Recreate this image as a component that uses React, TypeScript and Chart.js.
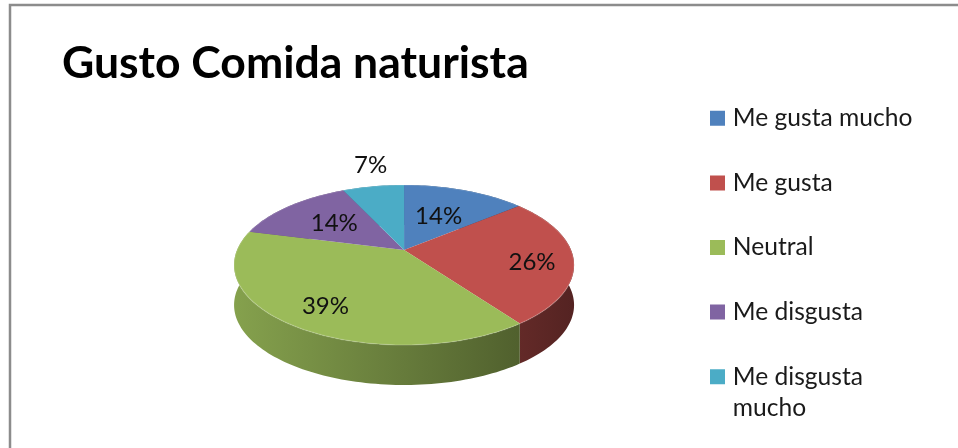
import React, { useEffect, useRef } from "react";
import { Chart, registerables } from "chart.js";

Chart.register(...registerables);

const TITLE = "Gusto Comida naturista";
const categories: (string | string[])[] = ["Me gusta mucho", "Me gusta", "Neutral", "Me disgusta", ["Me disgusta", "mucho"]];
const shares = [14, 26, 39, 14, 7];
const colors = ["#4f81bd", "#c0504d", "#9bbb59", "#8064a2", "#4bacc6"];
const labelRadius = [0.53, 0.76, 0.76, 0.58, 1.41];
const labelTurn = [0, 0.08, -0.02, 0, 0.04];

const FONT = "Lato";
const TILT = 80 / 170;
const DEPTH = 40 / 170;
const APEX = -0.1875;

// Map a point of the unit disc (angle clockwise from 12 o'clock) onto the tilted disc, in perspective.
function project(arc: any, theta: number, r = 1) {
  const u = r * Math.sin(theta);
  const v = -r * Math.cos(theta);
  const w = 1 + v * APEX;
  const pu = (u * Math.sqrt(1 - APEX * APEX)) / w;
  const pv = (v + APEX) / w;
  return { x: arc.x + pu * arc.outerRadius, y: arc.y + pv * arc.outerRadius * TILT };
}

function rim(arc: any) {
  const a0 = arc.startAngle + Math.PI / 2;
  const a1 = arc.endAngle + Math.PI / 2;
  const n = Math.max(8, Math.ceil((a1 - a0) * 40));
  const pts = [];
  for (let i = 0; i <= n; i++) pts.push(project(arc, a0 + ((a1 - a0) * i) / n));
  return pts;
}

function shade(hex: string, f: number) {
  const n = parseInt(hex.slice(1), 16);
  return `rgb(${((n >> 16) & 255) * f},${((n >> 8) & 255) * f},${(n & 255) * f})`;
}

const tiltedPie = {
  id: "tiltedPie",
  afterLayout(chart: any) {
    chart.titleBlock.left = 62;
    chart.legend.left = 674.5;
    chart.legend.right = 958;
    chart.legend.top = 66;
    chart.legend.bottom = 448;
  },
  beforeDraw(chart: any) {
    const { ctx, width, height } = chart;
    ctx.save();
    ctx.strokeStyle = "#8c8c8c";
    ctx.lineWidth = 2.5;
    ctx.strokeRect(10, 5, width + 20, height + 20);
    ctx.restore();
  },
  beforeDatasetsDraw(chart: any) {
    const { ctx } = chart;
    const arcs = chart.getDatasetMeta(0).data;
    const first = arcs[0];
    const ra = first.outerRadius;
    const depth = ra * DEPTH;
    ctx.save();
    arcs.forEach((arc: any, i: number) => {
      const pts = rim(arc);
      const g = ctx.createLinearGradient(arc.x - ra, 0, arc.x + ra, 0);
      g.addColorStop(0, shade(colors[i], 0.86));
      g.addColorStop(0.5, shade(colors[i], 0.66));
      g.addColorStop(0.83, shade(colors[i], 0.52));
      g.addColorStop(1, shade(colors[i], 0.44));
      ctx.beginPath();
      pts.forEach((p, k) => (k ? ctx.lineTo(p.x, p.y) : ctx.moveTo(p.x, p.y)));
      for (let k = pts.length - 1; k >= 0; k--) ctx.lineTo(pts[k].x, pts[k].y + depth);
      ctx.closePath();
      ctx.fillStyle = g;
      ctx.fill();
    });
    const apex = project(first, 0, 0);
    arcs.forEach((arc: any, i: number) => {
      const pts = rim(arc);
      ctx.beginPath();
      ctx.moveTo(apex.x, apex.y);
      pts.forEach((p) => ctx.lineTo(p.x, p.y));
      ctx.closePath();
      ctx.fillStyle = colors[i];
      ctx.fill();
      ctx.beginPath();
      pts.forEach((p, k) => (k ? ctx.lineTo(p.x, p.y) : ctx.moveTo(p.x, p.y)));
      ctx.strokeStyle = "rgba(255,255,255,0.15)";
      ctx.lineWidth = 1.5;
      ctx.stroke();
    });
    ctx.fillStyle = "#111111";
    ctx.font = `24px ${FONT}`;
    ctx.textAlign = "center";
    ctx.textBaseline = "middle";
    arcs.forEach((arc: any, i: number) => {
      const mid = (arc.startAngle + arc.endAngle) / 2 + Math.PI / 2 + labelTurn[i];
      const p = project(arc, mid, labelRadius[i]);
      ctx.fillText(`${shares[i]}%`, p.x, p.y);
    });
    ctx.restore();
    return false;
  },
};

export default function App() {
  const ref = useRef<HTMLCanvasElement>(null);
  useEffect(() => {
    const chart = new Chart(ref.current!, {
      type: "pie",
      data: {
        labels: categories as any,
        datasets: [{ data: shares, backgroundColor: colors, borderWidth: 0 }],
      },
      plugins: [tiltedPie],
      options: {
        responsive: false,
        animation: false,
        layout: { padding: { left: 134, right: 36, top: 0, bottom: 13 } },
        plugins: {
          tooltip: { enabled: false },
          title: {
            display: true,
            text: TITLE,
            align: "start",
            color: "#000000",
            font: { family: FONT, size: 44.5, weight: "bold", lineHeight: 1.2 },
            padding: { top: 37, bottom: 4.6 },
          },
          legend: {
            position: "right",
            align: "start",
            labels: {
              boxWidth: 6,
              boxHeight: 6,
              padding: 40,
              color: "#1a1a1a",
              font: { family: FONT, size: 24.6, lineHeight: 1.26 },
              generateLabels(chart: any) {
                return (Chart as any).overrides.pie.plugins.legend.labels
                  .generateLabels(chart)
                  .map((item: any) => ({ ...item, strokeStyle: item.fillStyle, lineWidth: 9 }));
              },
            },
          },
        },
      },
    } as any);
    return () => chart.destroy();
  }, []);
  return (
    <canvas
      ref={ref}
      width={958}
      height={448}
      style={{ position: "fixed", left: 0, top: 0, width: 958, height: 448, display: "block" }}
    />
  );
}
